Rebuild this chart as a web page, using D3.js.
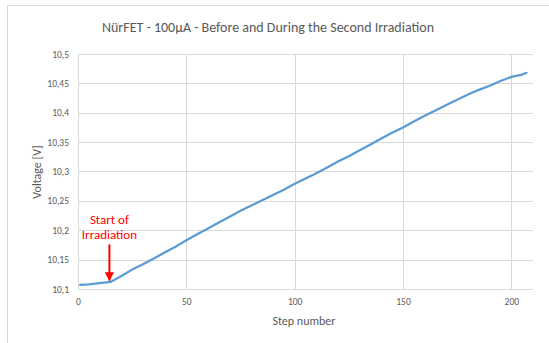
<!DOCTYPE html>
<html>
<head>
<meta charset="utf-8">
<script src="https://cdn.jsdelivr.net/npm/d3@7"></script>
<style>
  body { margin: 0; background: #fff; }
  svg text { font-family: Carlito, Lato, "Open Sans", sans-serif; }
</style>
</head>
<body>
<div id="chart"></div>
<script>
  var steps  = [1, 5, 10, 15, 20, 25, 30, 35, 40, 45, 50, 55, 60, 65, 70, 75, 80, 85, 90, 95, 100,
                105, 110, 115, 120, 125, 130, 135, 140, 145, 150, 155, 160, 165, 170, 175, 180,
                185, 190, 195, 200, 205, 207];
  var volts  = [10.107, 10.108, 10.110, 10.112, 10.122, 10.133, 10.142, 10.152, 10.162, 10.172, 10.183, 10.193, 10.203, 10.213, 10.223, 10.233, 10.242, 10.251, 10.260, 10.269, 10.279,
                10.288, 10.297, 10.307, 10.317, 10.326, 10.336, 10.346, 10.356, 10.366, 10.375, 10.385, 10.395, 10.404, 10.413, 10.422, 10.431,
                10.439, 10.446, 10.454, 10.461, 10.465, 10.468];
  var xTicks = [0, 50, 100, 150, 200];
  var yTicks = [10.1, 10.15, 10.2, 10.25, 10.3, 10.35, 10.4, 10.45, 10.5];
  var noteLines = ['Start of', 'Irradiation'];
  var noteStep = 14.5;
  var noteValue = 10.113;

  var width = 549, height = 343;
  var margin = {left: 78, right: 16, top: 54, bottom: 54};

  var svg = d3.select('#chart').append('svg')
    .attr('width', width).attr('height', height);

  // chart frame
  svg.append('rect')
    .attr('x', 7.5).attr('y', 5.5)
    .attr('width', width + 10).attr('height', height + 10)
    .attr('fill', '#fff').attr('stroke', '#d9d9d9');

  var x = d3.scaleLinear().domain([0, 210]).range([margin.left, width - margin.right]);
  var y = d3.scaleLinear().domain([10.1, 10.5]).range([height - margin.bottom, margin.top]);

  var grid = svg.append('g').attr('stroke', '#d9d9d9').attr('stroke-width', 1);
  grid.selectAll('.hg').data(yTicks).enter().append('line')
    .attr('x1', x(0)).attr('x2', x(210))
    .attr('y1', function(d){ return Math.round(y(d)) + 0.5; })
    .attr('y2', function(d){ return Math.round(y(d)) + 0.5; });
  grid.selectAll('.vg').data(xTicks).enter().append('line')
    .attr('y1', y(10.1)).attr('y2', y(10.5))
    .attr('x1', function(d){ return Math.round(x(d)) + 0.5; })
    .attr('x2', function(d){ return Math.round(x(d)) + 0.5; });

  var comma = function(d){ return String(+d.toFixed(2)).replace('.', ','); };

  var xAxis = svg.append('g')
    .attr('transform', 'translate(0,' + (height - margin.bottom) + ')')
    .call(d3.axisBottom(x).tickValues(xTicks).tickSize(0).tickPadding(9).tickFormat(comma));
  var yAxis = svg.append('g')
    .attr('transform', 'translate(' + margin.left + ',0)')
    .call(d3.axisLeft(y).tickValues(yTicks).tickSize(0).tickPadding(9).tickFormat(comma));
  [xAxis, yAxis].forEach(function(a){
    a.select('.domain').remove();
    a.selectAll('text').attr('fill', '#595959').style('font-size', '9.5px');
  });

  var line = d3.line()
    .x(function(d, i){ return x(steps[i]); })
    .y(function(d){ return y(d); });

  svg.append('path')
    .datum(volts)
    .attr('d', line)
    .attr('fill', 'none')
    .attr('stroke', '#5b9bd5')
    .attr('stroke-width', 2.25)
    .attr('stroke-linecap', 'round')
    .attr('stroke-linejoin', 'round');

  // titles
  svg.append('text')
    .attr('x', 268).attr('y', 32)
    .attr('text-anchor', 'middle')
    .attr('fill', '#595959')
    .style('font-size', '14px')
    .text('NürFET - 100µA - Before and During the Second Irradiation');

  svg.append('text')
    .attr('x', 304).attr('y', 325)
    .attr('text-anchor', 'middle')
    .attr('fill', '#595959')
    .style('font-size', '12px')
    .text('Step number');

  svg.append('text')
    .attr('transform', 'translate(41,172) rotate(-90)')
    .attr('text-anchor', 'middle')
    .attr('fill', '#595959')
    .style('font-size', '12px')
    .text('Voltage [V]');

  // annotation
  var ax = x(noteStep);
  var tipY = y(noteValue) - 1;
  svg.append('defs').append('marker')
    .attr('id', 'head').attr('viewBox', '0 0 10 10')
    .attr('refX', 9).attr('refY', 5)
    .attr('markerWidth', 4.5).attr('markerHeight', 4.5)
    .attr('orient', 'auto')
    .append('path').attr('d', 'M0,0L10,5L0,10z').attr('fill', '#ff0000');
  svg.append('line')
    .attr('x1', ax).attr('x2', ax)
    .attr('y1', tipY - 36).attr('y2', tipY)
    .attr('stroke', '#ff0000').attr('stroke-width', 2)
    .attr('marker-end', 'url(#head)');
  svg.selectAll('.note').data(noteLines).enter().append('text')
    .attr('x', ax)
    .attr('y', function(d, i){ return tipY - 56 + i * 15; })
    .attr('text-anchor', 'middle')
    .attr('fill', '#ff0000')
    .style('font-size', '13px')
    .text(function(d){ return d; });
</script>
</body>
</html>
